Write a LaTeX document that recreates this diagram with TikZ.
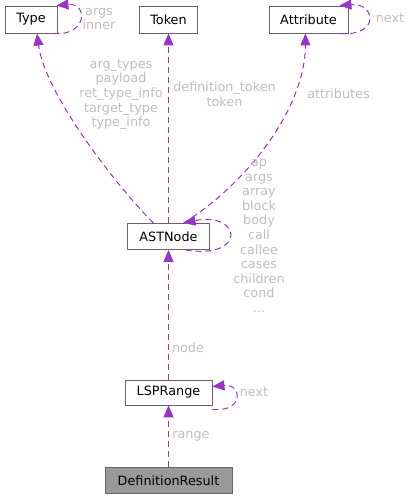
\documentclass[tikz,border=0pt]{standalone}
\usepackage{fontspec}
\setmainfont{DejaVu Sans}
\usetikzlibrary{arrows.meta}
\definecolor{edgec}{HTML}{9A32CD}
\definecolor{lblc}{HTML}{BEBEBE}
\definecolor{boxc}{HTML}{666666}
\definecolor{fillc}{HTML}{999999}
\begin{document}
\begin{tikzpicture}[x=1pt,y=-1pt,
  every node/.style={font=\fontsize{12.8}{14.6}\selectfont},
  cls/.style={draw=boxc,line width=0.9pt,fill=white,minimum height=26pt,inner sep=0pt,text=black},
  edge/.style={draw=edgec,line width=1pt,dash pattern=on 6pt off 4pt,-{Triangle[length=12pt,width=10pt,fill=edgec]}},
  lbl/.style={text=lblc,align=center,inner sep=0pt}]
\useasboundingbox (0,0) rectangle (411,499);
\node[cls,minimum width=52pt,minimum height=27pt] (type) at (31,19.5) {Type};
\node[cls,minimum width=58pt,minimum height=27pt] (token) at (168.5,19.5) {Token};
\node[cls,minimum width=79pt,minimum height=27pt] (attr) at (308.5,19.5) {Attribute};
\node[cls,minimum width=82pt] (ast) at (168.5,236.5) {ASTNode};
\node[cls,minimum width=87pt,minimum height=25pt] (lsp) at (168.5,392.5) {LSPRange};
\node[cls,minimum width=127pt,fill=fillc] (def) at (168.5,480.5) {DefinitionResult};

% edges
\draw[edge] ([xshift=-15pt]ast.north) .. controls (120,190) and (45,95) .. ([xshift=6pt]type.south);
\draw[edge] (ast.north) -- (token.south);
\draw[edge] ([xshift=15pt]ast.north) .. controls (245,185) and (305,110) .. ([xshift=-3pt]attr.south);
\draw[edge] ([xshift=-4pt]type.south east) .. controls +(34,3) and +(32,-3) .. ([xshift=-1pt]type.north east);
\draw[edge] ([xshift=-8pt]attr.south east) .. controls +(40,3) and +(36,-3) .. ([xshift=-9pt]attr.north east);
\draw[edge] ([xshift=17pt]ast.south) .. controls +(62,10) and +(58,-12) .. ([xshift=15pt]ast.north);
\draw[edge] (lsp.north) -- (ast.south);
\draw[edge] ([yshift=-4pt]lsp.south east) .. controls +(32,3) and +(30,-3) .. ([yshift=-7pt]lsp.north east);
\draw[edge] (def.north) -- (lsp.south);

% labels
\node[lbl] (largs) at (99,19) {args\\inner};
\node[lbl] (ltype) at (121,94.5) {arg\_types\\payload\\ret\_type\_info\\target\_type\\type\_info};
\node[lbl] (ltok) at (224.5,94) {definition\_token\\token};
\node[lbl] (lattr) at (338.5,94) {attributes};
\node[lbl] (lnext1) at (390,18) {next};
\node[lbl] (last) at (259,236) {ap\\args\\array\\block\\body\\call\\callee\\cases\\children\\cond\\...};
\node[lbl] (lnode) at (188,348) {node};
\node[lbl] (lnext2) at (254,392) {next};
\node[lbl] (lrange) at (191,436) {range};
\end{tikzpicture}
\end{document}
